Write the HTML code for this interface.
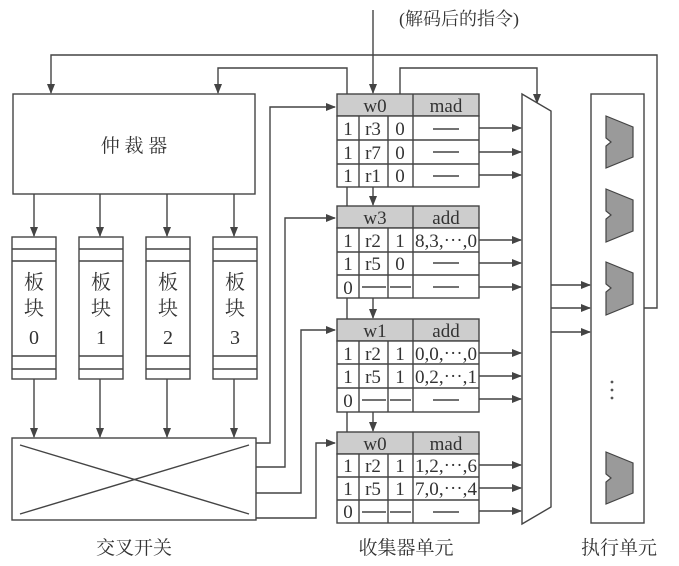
<!DOCTYPE html>
<html><head><meta charset="utf-8"><style>
html,body{margin:0;padding:0;background:#fff;}
svg{display:block;}
text{font-family:"Liberation Serif","Noto Serif CJK SC",serif;fill:#333;}
.cj{font-family:"Liberation Serif","Noto Serif CJK SC",serif;}
</style></head><body>
<svg width="679" height="566" viewBox="0 0 679 566" xmlns="http://www.w3.org/2000/svg">
<defs>
<marker id="a" markerWidth="10" markerHeight="8" refX="9" refY="4" orient="auto" markerUnits="userSpaceOnUse">
<path d="M0,0 L10,4 L0,8 Z" fill="#444"/></marker>
</defs>
<g stroke="#444" stroke-width="1.4" fill="none">
<polyline points="644,308 657,308 657,55 51,55 51,93" marker-end="url(#a)"/>
<polyline points="347,432 347,68 218,68 218,93" marker-end="url(#a)"/>
<line x1="373" y1="10" x2="373" y2="93" marker-end="url(#a)"/>
<polyline points="400,94 400,68 537,68 537,103" marker-end="url(#a)"/>
<rect x="13" y="94" width="242" height="100"/>
<line x1="34" y1="194" x2="34" y2="236" marker-end="url(#a)"/>
<line x1="100" y1="194" x2="100" y2="236" marker-end="url(#a)"/>
<line x1="167" y1="194" x2="167" y2="236" marker-end="url(#a)"/>
<line x1="234" y1="194" x2="234" y2="236" marker-end="url(#a)"/>
<g>
<rect x="12" y="237" width="44" height="142"/><line x1="12" y1="249" x2="56" y2="249"/><line x1="12" y1="261" x2="56" y2="261"/><line x1="12" y1="356" x2="56" y2="356"/><line x1="12" y1="369" x2="56" y2="369"/>
<rect x="79" y="237" width="44" height="142"/><line x1="79" y1="249" x2="123" y2="249"/><line x1="79" y1="261" x2="123" y2="261"/><line x1="79" y1="356" x2="123" y2="356"/><line x1="79" y1="369" x2="123" y2="369"/>
<rect x="146" y="237" width="44" height="142"/><line x1="146" y1="249" x2="190" y2="249"/><line x1="146" y1="261" x2="190" y2="261"/><line x1="146" y1="356" x2="190" y2="356"/><line x1="146" y1="369" x2="190" y2="369"/>
<rect x="213" y="237" width="44" height="142"/><line x1="213" y1="249" x2="257" y2="249"/><line x1="213" y1="261" x2="257" y2="261"/><line x1="213" y1="356" x2="257" y2="356"/><line x1="213" y1="369" x2="257" y2="369"/>
</g>
<line x1="34" y1="379" x2="34" y2="437" marker-end="url(#a)"/>
<line x1="100" y1="379" x2="100" y2="437" marker-end="url(#a)"/>
<line x1="167" y1="379" x2="167" y2="437" marker-end="url(#a)"/>
<line x1="234" y1="379" x2="234" y2="437" marker-end="url(#a)"/>
<rect x="12" y="438" width="244" height="82"/>
<line x1="20" y1="445" x2="249" y2="514"/>
<line x1="20" y1="514" x2="249" y2="445"/>
<polyline points="256,443 270,443 270,107 335,107" marker-end="url(#a)"/>
<polyline points="256,467 285,467 285,218 335,218" marker-end="url(#a)"/>
<polyline points="256,493 301,493 301,330 335,330" marker-end="url(#a)"/>
<polyline points="256,518 316,518 316,443 335,443" marker-end="url(#a)"/>
<line x1="373" y1="187" x2="373" y2="205" marker-end="url(#a)"/>
<line x1="373" y1="298" x2="373" y2="318" marker-end="url(#a)"/>
<line x1="373" y1="412" x2="373" y2="431" marker-end="url(#a)"/>
<polygon points="522,94 551,111 551,507 522,524" fill="#fff"/>
<line x1="551" y1="285" x2="590" y2="285" marker-end="url(#a)"/>
<line x1="551" y1="308" x2="590" y2="308" marker-end="url(#a)"/>
<line x1="551" y1="332" x2="590" y2="332" marker-end="url(#a)"/>
<rect x="591" y="94" width="53" height="429" fill="#fff"/>
</g>
<g fill="#9a9a9a" stroke="#444" stroke-width="1.2">
<path d="M606,116 L633,127 L633,157 L606,168 L606,146 L611,142 L606,138 Z"/>
<path d="M606,189 L633,200 L633,231 L606,242 L606,219 L611,215 L606,211 Z"/>
<path d="M606,262 L633,273 L633,304 L606,315 L606,292 L611,288 L606,284 Z"/>
<path d="M606,452 L633,463 L633,493 L606,504 L606,482 L611,478 L606,474 Z"/>
</g>
<g fill="#555"><circle cx="612" cy="382" r="1.4"/><circle cx="612" cy="390" r="1.4"/><circle cx="612" cy="398" r="1.4"/></g>

<g font-size="19">
<g stroke="#444" stroke-width="1.4">
<rect x="337" y="94" width="142" height="22" fill="#cdcdcd"/>
<rect x="337" y="116" width="142" height="71" fill="#fff"/>
<line x1="413" y1="94" x2="413" y2="187"/><line x1="359" y1="116" x2="359" y2="187"/><line x1="388" y1="116" x2="388" y2="187"/>
<line x1="337" y1="140" x2="479" y2="140"/><line x1="337" y1="164" x2="479" y2="164"/>
<line x1="433" y1="129" x2="459" y2="129"/><line x1="433" y1="152" x2="459" y2="152"/><line x1="433" y1="176" x2="459" y2="176"/>
</g>
<text x="375" y="112" text-anchor="middle">w0</text><text x="446" y="112" text-anchor="middle">mad</text>
<text x="348" y="135" text-anchor="middle">1</text><text x="373" y="135" text-anchor="middle">r3</text><text x="400" y="135" text-anchor="middle">0</text>
<text x="348" y="159" text-anchor="middle">1</text><text x="373" y="159" text-anchor="middle">r7</text><text x="400" y="159" text-anchor="middle">0</text>
<text x="348" y="182" text-anchor="middle">1</text><text x="373" y="182" text-anchor="middle">r1</text><text x="400" y="182" text-anchor="middle">0</text>
<g stroke="#444" stroke-width="1.4">
<rect x="337" y="206" width="142" height="22" fill="#cdcdcd"/>
<rect x="337" y="228" width="142" height="70" fill="#fff"/>
<line x1="413" y1="206" x2="413" y2="298"/><line x1="359" y1="228" x2="359" y2="298"/><line x1="388" y1="228" x2="388" y2="298"/>
<line x1="337" y1="252" x2="479" y2="252"/><line x1="337" y1="275" x2="479" y2="275"/>
<line x1="433" y1="263" x2="459" y2="263"/><line x1="433" y1="287" x2="459" y2="287"/>
<line x1="362" y1="287" x2="386" y2="287"/><line x1="390" y1="287" x2="411" y2="287"/>
</g>
<text x="375" y="224" text-anchor="middle">w3</text><text x="446" y="224" text-anchor="middle">add</text>
<text x="348" y="247" text-anchor="middle">1</text><text x="373" y="247" text-anchor="middle">r2</text><text x="400" y="247" text-anchor="middle">1</text><text x="446" y="247" text-anchor="middle" textLength="62" lengthAdjust="spacingAndGlyphs">8,3,⋯,0</text>
<text x="348" y="270" text-anchor="middle">1</text><text x="373" y="270" text-anchor="middle">r5</text><text x="400" y="270" text-anchor="middle">0</text>
<text x="348" y="294" text-anchor="middle">0</text>
<g stroke="#444" stroke-width="1.4">
<rect x="337" y="319" width="142" height="22" fill="#cdcdcd"/>
<rect x="337" y="341" width="142" height="71" fill="#fff"/>
<line x1="413" y1="319" x2="413" y2="412"/><line x1="359" y1="341" x2="359" y2="412"/><line x1="388" y1="341" x2="388" y2="412"/>
<line x1="337" y1="364" x2="479" y2="364"/><line x1="337" y1="388" x2="479" y2="388"/>
<line x1="433" y1="400" x2="459" y2="400"/>
<line x1="362" y1="400" x2="386" y2="400"/><line x1="390" y1="400" x2="411" y2="400"/>
</g>
<text x="375" y="337" text-anchor="middle">w1</text><text x="446" y="337" text-anchor="middle">add</text>
<text x="348" y="360" text-anchor="middle">1</text><text x="373" y="360" text-anchor="middle">r2</text><text x="400" y="360" text-anchor="middle">1</text><text x="446" y="360" text-anchor="middle" textLength="62" lengthAdjust="spacingAndGlyphs">0,0,⋯,0</text>
<text x="348" y="383" text-anchor="middle">1</text><text x="373" y="383" text-anchor="middle">r5</text><text x="400" y="383" text-anchor="middle">1</text><text x="446" y="383" text-anchor="middle" textLength="62" lengthAdjust="spacingAndGlyphs">0,2,⋯,1</text>
<text x="348" y="407" text-anchor="middle">0</text>
<g stroke="#444" stroke-width="1.4">
<rect x="337" y="432" width="142" height="22" fill="#cdcdcd"/>
<rect x="337" y="454" width="142" height="69" fill="#fff"/>
<line x1="413" y1="432" x2="413" y2="523"/><line x1="359" y1="454" x2="359" y2="523"/><line x1="388" y1="454" x2="388" y2="523"/>
<line x1="337" y1="477" x2="479" y2="477"/><line x1="337" y1="500" x2="479" y2="500"/>
<line x1="433" y1="512" x2="459" y2="512"/>
<line x1="362" y1="512" x2="386" y2="512"/><line x1="390" y1="512" x2="411" y2="512"/>
</g>
<text x="375" y="450" text-anchor="middle">w0</text><text x="446" y="450" text-anchor="middle">mad</text>
<text x="348" y="472" text-anchor="middle">1</text><text x="373" y="472" text-anchor="middle">r2</text><text x="400" y="472" text-anchor="middle">1</text><text x="446" y="472" text-anchor="middle" textLength="62" lengthAdjust="spacingAndGlyphs">1,2,⋯,6</text>
<text x="348" y="495" text-anchor="middle">1</text><text x="373" y="495" text-anchor="middle">r5</text><text x="400" y="495" text-anchor="middle">1</text><text x="446" y="495" text-anchor="middle" textLength="62" lengthAdjust="spacingAndGlyphs">7,0,⋯,4</text>
<text x="348" y="518" text-anchor="middle">0</text>
</g>
<g stroke="#444" stroke-width="1.4">
<line x1="479" y1="128" x2="521" y2="128" marker-end="url(#a)"/>
<line x1="479" y1="152" x2="521" y2="152" marker-end="url(#a)"/>
<line x1="479" y1="175" x2="521" y2="175" marker-end="url(#a)"/>
<line x1="479" y1="240" x2="521" y2="240" marker-end="url(#a)"/>
<line x1="479" y1="263" x2="521" y2="263" marker-end="url(#a)"/>
<line x1="479" y1="287" x2="521" y2="287" marker-end="url(#a)"/>
<line x1="479" y1="353" x2="521" y2="353" marker-end="url(#a)"/>
<line x1="479" y1="376" x2="521" y2="376" marker-end="url(#a)"/>
<line x1="479" y1="399" x2="521" y2="399" marker-end="url(#a)"/>
<line x1="479" y1="465" x2="521" y2="465" marker-end="url(#a)"/>
<line x1="479" y1="488" x2="521" y2="488" marker-end="url(#a)"/>
<line x1="479" y1="511" x2="521" y2="511" marker-end="url(#a)"/>
</g>
<g font-size="19">
<text class="cj" x="134" y="152" text-anchor="middle" font-size="19">仲 裁 器</text>
<text class="cj" x="34" y="289" text-anchor="middle" font-size="20">板</text><text class="cj" x="34" y="315" text-anchor="middle" font-size="20">块</text><text x="34" y="344" text-anchor="middle" font-size="20">0</text>
<text class="cj" x="101" y="289" text-anchor="middle" font-size="20">板</text><text class="cj" x="101" y="315" text-anchor="middle" font-size="20">块</text><text x="101" y="344" text-anchor="middle" font-size="20">1</text>
<text class="cj" x="168" y="289" text-anchor="middle" font-size="20">板</text><text class="cj" x="168" y="315" text-anchor="middle" font-size="20">块</text><text x="168" y="344" text-anchor="middle" font-size="20">2</text>
<text class="cj" x="235" y="289" text-anchor="middle" font-size="20">板</text><text class="cj" x="235" y="315" text-anchor="middle" font-size="20">块</text><text x="235" y="344" text-anchor="middle" font-size="20">3</text>
<text class="cj" x="134" y="554" text-anchor="middle">交叉开关</text>
<text class="cj" x="406" y="554" text-anchor="middle">收集器单元</text>
<text class="cj" x="619" y="554" text-anchor="middle">执行单元</text>
<text class="cj" x="459" y="25" text-anchor="middle" font-size="18">(解码后的指令)</text>
</g>
</svg>
</body></html>
